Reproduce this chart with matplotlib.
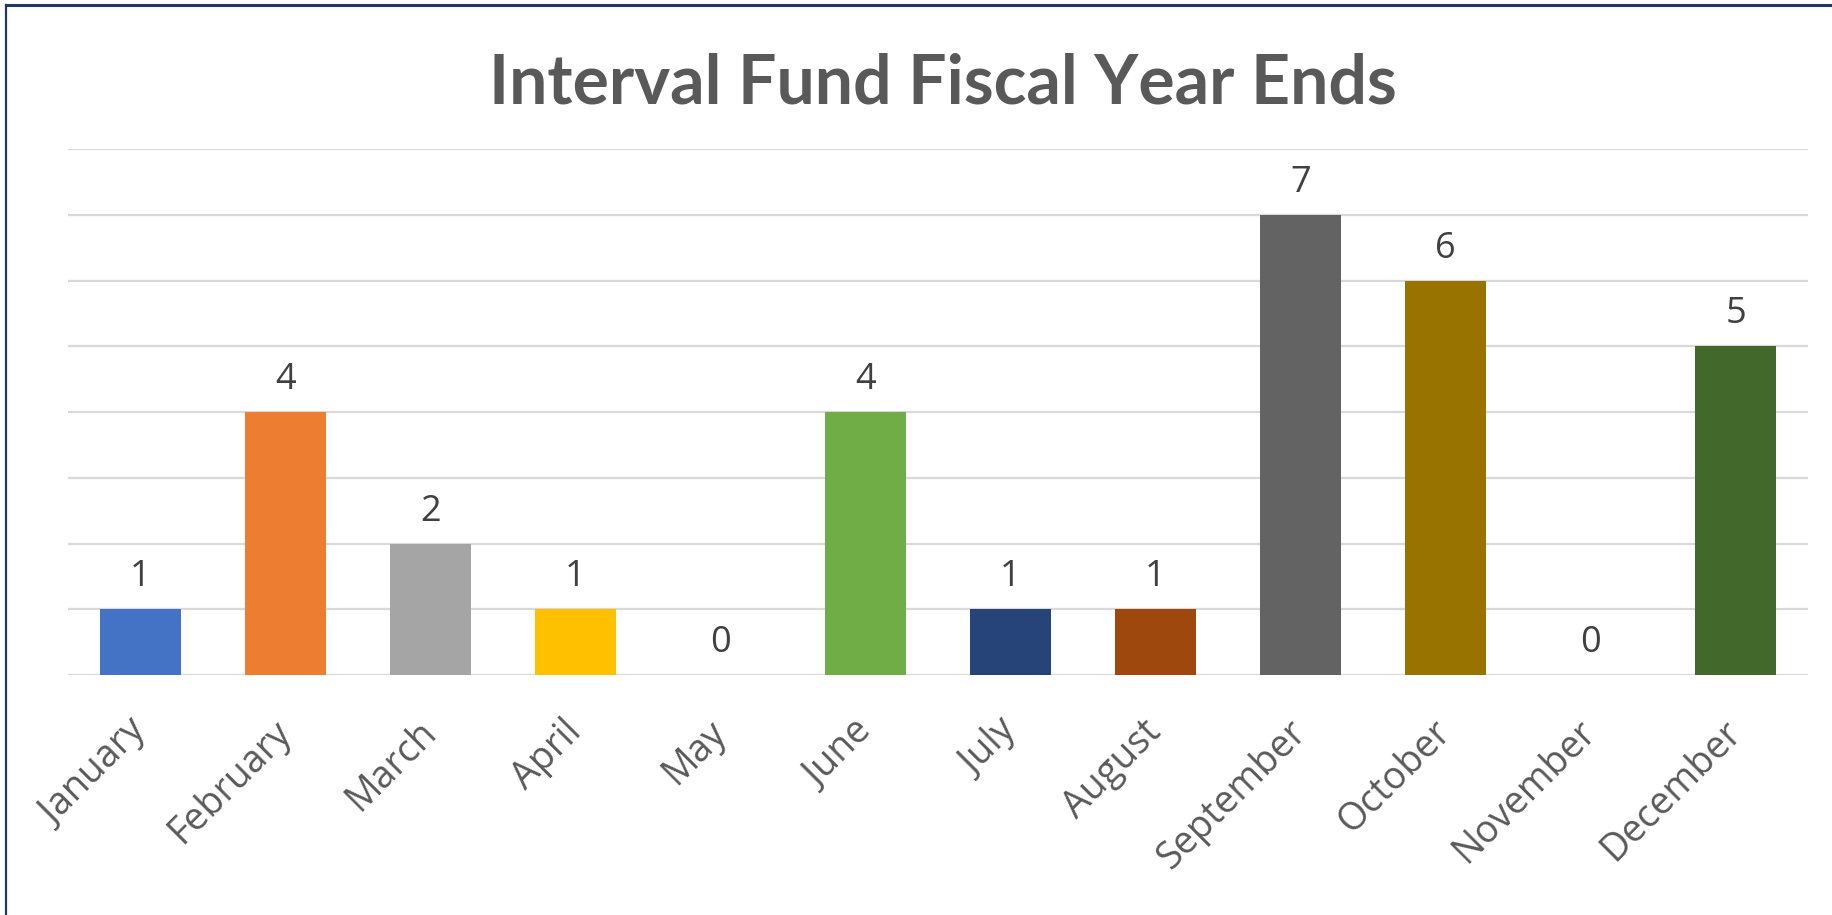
import matplotlib
matplotlib.use("Agg")
import matplotlib.pyplot as plt
from matplotlib.lines import Line2D
import numpy as np

plt.rcParams.update({
    "font.family": ["Open Sans", "DejaVu Sans"],
    "text.color": "#404040",
})

months = ["January", "February", "March", "April", "May", "June",
          "July", "August", "September", "October", "November", "December"]
counts = [1, 4, 2, 1, 0, 4, 1, 1, 7, 6, 0, 5]
colors = ["#4472C4", "#ED7D31", "#A5A5A5", "#FFC000", "#5B9BD5", "#70AD47",
          "#264478", "#9E480E", "#636363", "#997300", "#255E91", "#43682B"]

W, H = 1832, 915
fig = plt.figure(figsize=(W / 100, H / 100), dpi=100)
ax = fig.add_axes([68 / W, 1 - 675 / H, 1740 / W, 526 / H])

x = np.arange(len(months))
ax.bar(x, counts, width=0.56, color=colors, zorder=3)

ax.set_xlim(-0.5, len(months) - 0.5)
ax.set_ylim(0, 8)
ax.set_yticks(range(0, 9))
ax.yaxis.grid(True, color="#D9D9D9", lw=1.6, zorder=0)
ax.tick_params(axis="y", left=False, labelleft=False)
ax.tick_params(axis="x", length=0, pad=37)
for s in ["top", "right", "left", "bottom"]:
    ax.spines[s].set_visible(False)

ax.set_xticks(x)
ax.set_xticklabels(months, rotation=45, ha="right", va="center",
                   rotation_mode="anchor", fontsize=27, color="#595959")

# value labels above each bar
for xi, v in zip(x, counts):
    ax.annotate(str(v), (xi, v), xytext=(0, 16.5), textcoords="offset points",
                ha="center", va="baseline", fontsize=26, color="#404040")

fig.text(943 / W, 1 - 103 / H, "Interval Fund Fiscal Year Ends",
         ha="center", va="baseline", fontsize=49, fontweight="bold",
         family=["Lato", "DejaVu Sans"], color="#595959")

# frame around the chart (top and left edges)
fig.add_artist(Line2D([6 / W, 1], [1 - 5 / H, 1 - 5 / H], color="#1F3864",
                      lw=2.2, transform=fig.transFigure))
fig.add_artist(Line2D([6 / W, 6 / W], [0, 1 - 5 / H], color="#1F3864",
                      lw=1.6, transform=fig.transFigure))

fig.savefig("out.png", dpi=100)
